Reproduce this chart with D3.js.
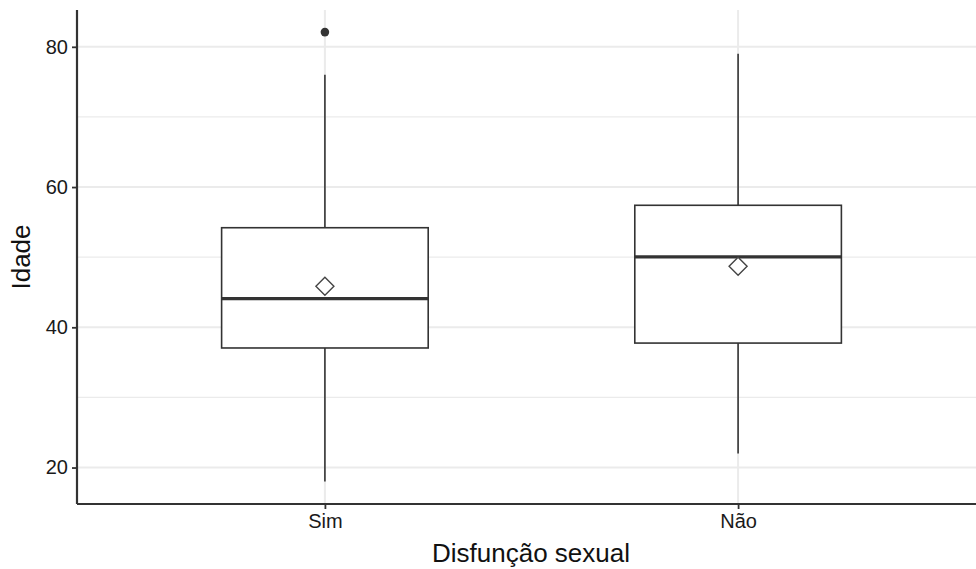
<!DOCTYPE html>
<html>
<head>
<meta charset="utf-8">
<script src="https://cdn.jsdelivr.net/npm/d3@7"></script>
<style>
  body { margin: 0; background: #fff; }
  text { font-family: "Liberation Sans", Arial, sans-serif; }
</style>
</head>
<body>
<svg id="chart" width="976" height="569"></svg>
<script>
// data
var categories = ["Sim", "Não"];
var lowerWhisker = [18, 22];
var q1 = [37.05, 37.75];
var median = [44.1, 50.05];
var q3 = [54.2, 57.4];
var upperWhisker = [76, 79];
var means = [45.85, 48.7];
var outliers = [{cat: "Sim", value: 82.1}];
var yTicks = [20, 40, 60, 80];
var yMinor = [30, 50, 70];

var margin = {top: 10, right: -10, bottom: 65, left: 77},
    width = 976 - margin.left - margin.right,
    height = 569 - margin.top - margin.bottom;

var svg = d3.select("#chart");
var g = svg.append("g")
    .attr("transform", "translate(" + margin.left + "," + margin.top + ")");

var x = d3.scalePoint()
    .domain(categories)
    .range([0, width])
    .padding(0.6);

var step = x.step(),
    boxW = step * 0.5;

var y = d3.scaleLinear()
    .domain([14.8, 85.25])
    .range([height, 0]);

// grid
g.selectAll(".minor")
    .data(yMinor)
  .enter().append("line")
    .attr("x1", 0).attr("x2", width)
    .attr("y1", function(d) { return y(d); })
    .attr("y2", function(d) { return y(d); })
    .style("stroke", "#ebebeb")
    .style("stroke-width", 1.2);

g.selectAll(".major")
    .data(yTicks)
  .enter().append("line")
    .attr("x1", 0).attr("x2", width)
    .attr("y1", function(d) { return y(d); })
    .attr("y2", function(d) { return y(d); })
    .style("stroke", "#ebebeb")
    .style("stroke-width", 2);

g.selectAll(".vgrid")
    .data(categories)
  .enter().append("line")
    .attr("x1", function(d) { return x(d); })
    .attr("x2", function(d) { return x(d); })
    .attr("y1", 0).attr("y2", height)
    .style("stroke", "#ebebeb")
    .style("stroke-width", 2);

// boxes
var box = g.selectAll(".box")
    .data(categories)
  .enter().append("g")
    .attr("class", "box");

box.append("line")
    .attr("x1", function(d) { return x(d); })
    .attr("x2", function(d) { return x(d); })
    .attr("y1", function(d, i) { return y(upperWhisker[i]); })
    .attr("y2", function(d, i) { return y(q3[i]); })
    .style("stroke", "#333")
    .style("stroke-width", 1.6);

box.append("line")
    .attr("x1", function(d) { return x(d); })
    .attr("x2", function(d) { return x(d); })
    .attr("y1", function(d, i) { return y(q1[i]); })
    .attr("y2", function(d, i) { return y(lowerWhisker[i]); })
    .style("stroke", "#333")
    .style("stroke-width", 1.6);

box.append("rect")
    .attr("x", function(d) { return x(d) - boxW / 2; })
    .attr("y", function(d, i) { return y(q3[i]); })
    .attr("width", boxW)
    .attr("height", function(d, i) { return y(q1[i]) - y(q3[i]); })
    .style("fill", "#fff")
    .style("stroke", "#333")
    .style("stroke-width", 1.6);

box.append("line")
    .attr("x1", function(d) { return x(d) - boxW / 2; })
    .attr("x2", function(d) { return x(d) + boxW / 2; })
    .attr("y1", function(d, i) { return y(median[i]); })
    .attr("y2", function(d, i) { return y(median[i]); })
    .style("stroke", "#333")
    .style("stroke-width", 3.2);

// means (open diamonds)
box.append("path")
    .attr("d", "M0,-9L9,0L0,9L-9,0Z")
    .attr("transform", function(d, i) { return "translate(" + x(d) + "," + y(means[i]) + ")"; })
    .style("fill", "#fff")
    .style("stroke", "#444")
    .style("stroke-width", 1.4);

g.selectAll(".outlier")
    .data(outliers)
  .enter().append("circle")
    .attr("cx", function(d) { return x(d.cat); })
    .attr("cy", function(d) { return y(d.value); })
    .attr("r", 4.3)
    .style("fill", "#333");

// axes
var yAxis = g.append("g")
    .call(d3.axisLeft(y).tickValues(yTicks).tickSize(5).tickPadding(4));
var xAxis = g.append("g")
    .attr("transform", "translate(0," + height + ")")
    .call(d3.axisBottom(x).tickSize(5).tickPadding(5));

[yAxis, xAxis].forEach(function(a) {
  a.select(".domain").style("stroke", "#333").style("stroke-width", 2.2);
  a.selectAll(".tick line").style("stroke", "#333").style("stroke-width", 1.8);
  a.selectAll(".tick text")
    .style("font-size", "20px")
    .style("fill", "#1a1a1a")
    .style("font-family", "'Liberation Sans', Arial, sans-serif");
});
yAxis.select(".domain").attr("d", "M0," + height + "V0");
xAxis.select(".domain").attr("d", "M0,0H" + width);

// titles
svg.append("text")
    .attr("x", 531)
    .attr("y", 562)
    .attr("text-anchor", "middle")
    .style("font-size", "26px")
    .style("fill", "#111")
    .text("Disfunção sexual");

svg.append("text")
    .attr("transform", "translate(30," + (margin.top + height / 2) + ") rotate(-90)")
    .attr("text-anchor", "middle")
    .style("font-size", "26px")
    .style("fill", "#111")
    .text("Idade");
</script>
</body>
</html>
